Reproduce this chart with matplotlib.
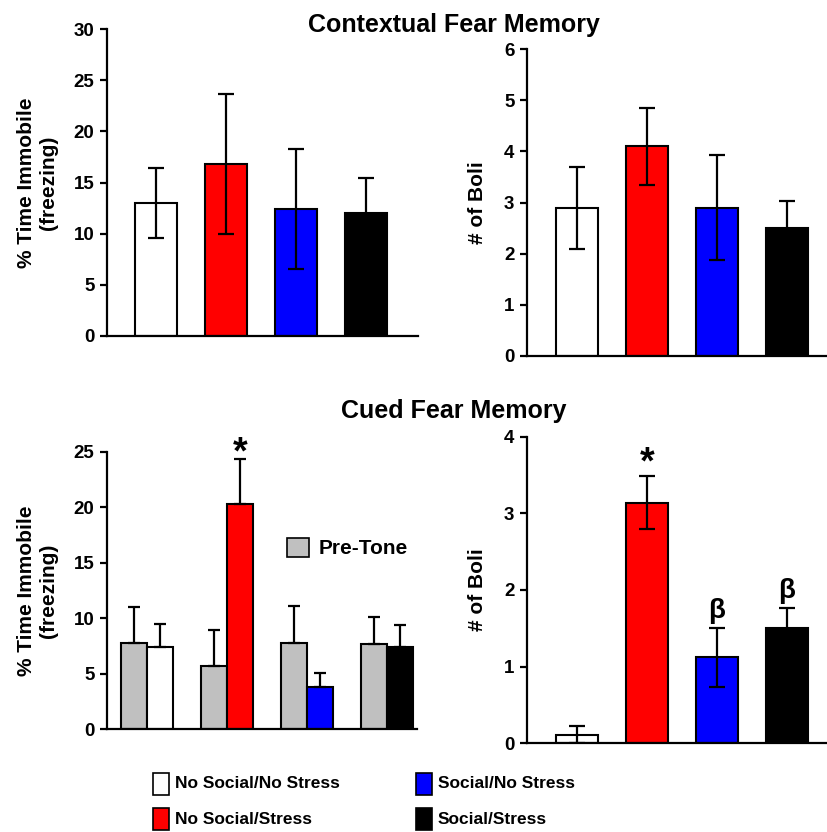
import numpy as np
import matplotlib.pyplot as plt
from matplotlib import font_manager
from matplotlib.patches import Rectangle

plt.rcParams['font.family'] = ['Liberation Sans', 'DejaVu Sans']
plt.rcParams['font.weight'] = 'bold'

groups = ['No Social/No Stress', 'No Social/Stress', 'Social/No Stress', 'Social/Stress']
colors = ['white', '#ff0000', '#0000ff', 'black']

# contextual fear memory
ctx_freeze = [13.0, 16.8, 12.4, 12.0]
ctx_freeze_err = [3.4, 6.85, 5.9, 3.4]
ctx_boli = [2.9, 4.1, 2.9, 2.5]
ctx_boli_err = [0.8, 0.75, 1.03, 0.52]

# cued fear memory
pretone_freeze = [7.8, 5.7, 7.8, 7.7]
pretone_freeze_err = [3.2, 3.2, 3.3, 2.4]
tone_freeze = [7.4, 20.3, 3.8, 7.4]
tone_freeze_err = [2.1, 4.0, 1.3, 2.0]
cued_boli = [0.11, 3.14, 1.12, 1.51]
cued_boli_err = [0.11, 0.35, 0.38, 0.25]
cued_boli_marks = ['', '*', 'β', 'β']

W, H = 827, 832
fig = plt.figure(figsize=(8.27, 8.32), dpi=100)

installed = {f.name for f in font_manager.fontManager.ttflist}
if 'Liberation Sans Narrow' in installed:
    leg_family, leg_size = ['Liberation Sans Narrow', 'Liberation Sans'], 15.5
else:
    leg_family, leg_size = ['Liberation Sans'], 12.5


def px_axes(x0, x1, y_top, y_bot):
    return fig.add_axes([x0 / W, 1 - y_bot / H, (x1 - x0) / W, (y_bot - y_top) / H])


def style(ax, ylim, ticks, ylabel, labelpad):
    ax.set_ylim(*ylim)
    ax.set_yticks(ticks)
    ax.set_xticks([])
    for s in ['top', 'right']:
        ax.spines[s].set_visible(False)
    for s in ['left', 'bottom']:
        ax.spines[s].set_linewidth(1.6)
    ax.tick_params(axis='y', length=5, width=1.6, labelsize=13.5, pad=4)
    for lab in ax.get_yticklabels():
        lab.set_fontweight('bold')
    ax.set_ylabel(ylabel, fontsize=15, fontweight='bold', labelpad=labelpad, linespacing=1.2)


x = np.arange(4)
ekw = dict(elinewidth=1.6, capthick=1.6, ecolor='black')

# top left
ax1 = px_axes(107, 418, 29, 336)
ax1.bar(x, ctx_freeze, 0.6, color=colors, edgecolor='black', linewidth=1.5)
ax1.errorbar(x, ctx_freeze, yerr=ctx_freeze_err, fmt='none', capsize=6, **ekw)
ax1.set_xlim(-0.7, 3.743)
style(ax1, (0, 30), range(0, 31, 5), '% Time Immobile\n(freezing)', 11)

# top right
ax2 = px_axes(527, 827, 49, 356)
ax2.bar(x, ctx_boli, 0.6, color=colors, edgecolor='black', linewidth=1.5)
ax2.errorbar(x, ctx_boli, yerr=ctx_boli_err, fmt='none', capsize=6, **ekw)
ax2.set_xlim(-0.714, 3.571)
style(ax2, (0, 6), range(0, 7), '# of Boli', 12)

# bottom left
ax3 = px_axes(107, 417, 451.7, 729.3)
bw = 0.32
ax3.bar(x - bw / 2, pretone_freeze, bw, color='#c0c0c0', edgecolor='black', linewidth=1.5)
ax3.errorbar(x - bw / 2, pretone_freeze, yerr=[np.zeros(4), pretone_freeze_err],
             fmt='none', capsize=4, **ekw)
ax3.bar(x + bw / 2, tone_freeze, bw, color=colors, edgecolor='black', linewidth=1.5)
ax3.errorbar(x + bw / 2, tone_freeze, yerr=[np.zeros(4), tone_freeze_err],
             fmt='none', capsize=4, **ekw)
ax3.annotate('*', (1 + bw / 2, tone_freeze[1] + tone_freeze_err[1]), xytext=(0, -9),
             textcoords='offset points', ha='center', va='bottom', fontsize=27, fontweight='bold')
ax3.set_xlim(-0.5, 3.375)
style(ax3, (0, 25), range(0, 26, 5), '% Time Immobile\n(freezing)', 11)
ax3.legend(handles=[Rectangle((0, 0), 1, 1, facecolor='#c0c0c0', edgecolor='black', linewidth=1.2)],
           labels=['Pre-Tone'], loc='center left', bbox_to_anchor=(268 / W, 1 - 548 / H),
           bbox_transform=fig.transFigure, frameon=False, handlelength=1.05, handleheight=1.05,
           handletextpad=0.5, prop=dict(size=15, weight='bold'))

# bottom right
ax4 = px_axes(527, 827, 436.7, 743.3)
ax4.bar(x, cued_boli, 0.6, color=colors, edgecolor='black', linewidth=1.5)
ax4.errorbar(x, cued_boli, yerr=cued_boli_err, fmt='none', capsize=6, **ekw)
for i, m in enumerate(cued_boli_marks):
    if m == '*':
        ax4.annotate(m, (x[i], cued_boli[i] + cued_boli_err[i]), xytext=(0, -4),
                     textcoords='offset points', ha='center', va='bottom', fontsize=27, fontweight='bold')
    elif m:
        ax4.annotate(m, (x[i], cued_boli[i] + cued_boli_err[i]), xytext=(0, 3),
                     textcoords='offset points', ha='center', va='bottom', fontsize=20, fontweight='bold')
ax4.set_xlim(-0.714, 3.571)
style(ax4, (0, 4), range(0, 5), '# of Boli', 12)

fig.text(454 / W, 1 - 32 / H, 'Contextual Fear Memory', ha='center', va='baseline',
         fontsize=18, fontweight='bold')
fig.text(454 / W, 1 - 418 / H, 'Cued Fear Memory', ha='center', va='baseline',
         fontsize=18, fontweight='bold')

# group legend at the bottom
leg_pos = [(153, 784), (153, 819), (416, 784), (416, 819)]
for (lx, ly), lab, c in zip(leg_pos, groups, colors):
    fig.add_artist(Rectangle((lx / W, 1 - (ly + 11) / H), 16 / W, 22 / H, transform=fig.transFigure,
                             facecolor=c, edgecolor='black', linewidth=1.2))
    fig.text((lx + 22) / W, 1 - ly / H, lab, ha='left', va='center', fontsize=leg_size,
             fontweight='bold', family=leg_family)

fig.savefig('out.png', dpi=100)
